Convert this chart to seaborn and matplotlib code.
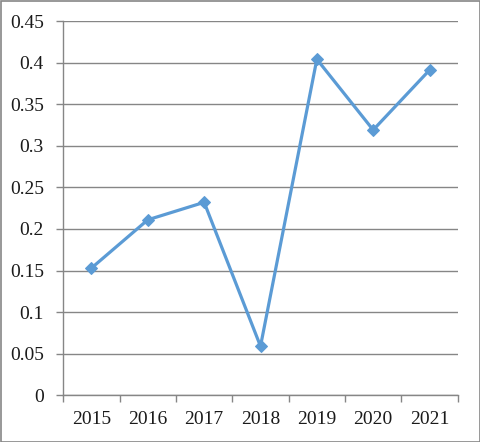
import matplotlib
matplotlib.use("Agg")
import matplotlib.pyplot as plt
import seaborn as sns
import pandas as pd
import numpy as np
from matplotlib.ticker import FixedLocator
from matplotlib.patches import Rectangle

years = ["2015", "2016", "2017", "2018", "2019", "2020", "2021"]
values = [0.153, 0.211, 0.232, 0.059, 0.404, 0.319, 0.391]
yticks = [0, 0.05, 0.1, 0.15, 0.2, 0.25, 0.3, 0.35, 0.4, 0.45]
ytick_labels = ["0", "0.05", "0.1", "0.15", "0.2", "0.25", "0.3", "0.35", "0.4", "0.45"]

sns.set_theme(style="white")
plt.rcParams['font.family'] = ['Liberation Serif', 'DejaVu Serif']

df = pd.DataFrame({"year": years, "value": values})
df["pos"] = np.arange(len(years))

fig = plt.figure(figsize=(4.8, 4.42), dpi=100)
ax = fig.add_axes([63.3 / 480, 1 - 395.3 / 442, (457.7 - 63.3) / 480, (395.3 - 21) / 442])

color = "#5B9BD5"
sns.lineplot(data=df, x="pos", y="value", ax=ax, color=color, linewidth=2.3,
             marker="D", markersize=6.5, markeredgecolor=color, markerfacecolor=color)

ax.set_xlim(-0.5, len(years) - 0.5)
ax.set_ylim(0, 0.45)
ax.set_yticks(yticks)
ax.set_yticklabels(ytick_labels, fontsize=14, color="#1a1a1a")
ax.set_xticks(df["pos"])
ax.set_xticklabels(years, fontsize=14, color="#1a1a1a")
ax.xaxis.set_minor_locator(FixedLocator(np.arange(-0.5, len(years), 1.0)))
ax.tick_params(axis="x", which="major", length=0, pad=11)
ax.tick_params(axis="x", which="minor", length=5, width=1, color="#868686", direction="out", bottom=True)
ax.tick_params(axis="y", which="major", length=5, width=1, color="#868686", direction="out", left=True, pad=9)

ax.set_xlabel("")
ax.set_ylabel("")
ax.grid(axis="y", color="#868686", linewidth=1)
ax.set_axisbelow(True)
for s in ["top", "right"]:
    ax.spines[s].set_visible(False)
for s in ["left", "bottom"]:
    ax.spines[s].set_color("#868686")
    ax.spines[s].set_linewidth(1)

fig.patches.append(Rectangle((0.5 / 480, 0.5 / 442), 1 - 1.0 / 480, 1 - 1.0 / 442,
                             transform=fig.transFigure, fill=False,
                             edgecolor="#868686", linewidth=1.2))

fig.savefig("out.png", dpi=100)
